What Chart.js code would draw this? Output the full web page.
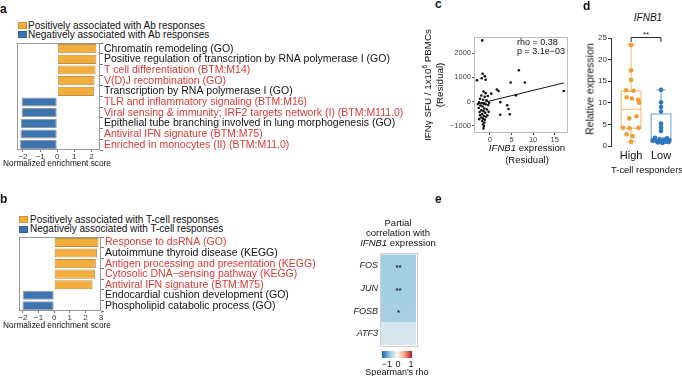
<!DOCTYPE html>
<html>
<head>
<meta charset="utf-8">
<script src="https://cdn.jsdelivr.net/npm/chart.js@4.4.1/dist/chart.umd.min.js"></script>
<style>
  body { margin: 0; background: #fff; }
  #fig { position: relative; width: 682px; height: 376px; overflow: hidden;
         font-family: "Liberation Sans", Arial, sans-serif; color: #111; }
  #fig canvas { position: absolute; }
  .t { position: absolute; white-space: nowrap; }
  .c { transform: translate(-50%, -50%); }
  .r { transform: translate(-50%, -50%) rotate(-90deg); }
  .pl { font-weight: bold; font-size: 12px; line-height: 12px; }
  .sw { position: absolute; width: 9px; height: 7px; box-sizing: border-box; }
  .lg { font-size: 10px; line-height: 10px; }
</style>
</head>
<body>
<div id="fig">
  <!-- panel a -->
  <div class="t pl" style="left:0;top:3px">a</div>
  <div class="sw" style="left:18px;top:22px;background:#f2ad3c;border:1px solid #c9933a"></div>
  <div class="t lg" style="left:28px;top:20.5px">Positively associated with Ab responses</div>
  <div class="sw" style="left:18px;top:31px;background:#3d74ad;border:1px solid #35618f"></div>
  <div class="t lg" style="left:28px;top:29.5px">Negatively associated with Ab responses</div>
  <canvas id="chartA" width="420" height="134" style="left:0;top:36px"></canvas>
  <div class="t c" style="left:57px;top:163px;font-size:8.3px;line-height:8px">Normalized enrichment score</div>

  <!-- panel b -->
  <div class="t pl" style="left:0;top:193px">b</div>
  <div class="sw" style="left:19px;top:216px;background:#f2ad3c;border:1px solid #c9933a"></div>
  <div class="t lg" style="left:30px;top:214.5px">Positively associated with T-cell responses</div>
  <div class="sw" style="left:19px;top:225.5px;background:#3d74ad;border:1px solid #35618f"></div>
  <div class="t lg" style="left:30px;top:224px">Negatively associated with T-cell responses</div>
  <canvas id="chartB" width="420" height="101" style="left:0;top:230px"></canvas>
  <div class="t c" style="left:57px;top:325px;font-size:8.3px;line-height:8px">Normalized enrichment score</div>

  <!-- panel c -->
  <div class="t pl" style="left:435px;top:-2px">c</div>
  <canvas id="chartC" width="172" height="115" style="left:400px;top:28px"></canvas>
  <div class="t r" style="left:428px;top:85px;font-size:9.8px;line-height:10px">IFNγ SFU / 1x10<span style="font-size:6.5px;vertical-align:4px;line-height:0">6</span> PBMCs</div>
  <div class="t r" style="left:440px;top:85px;font-size:9.8px;line-height:10px">(Residual)</div>
  <div class="t c" style="left:527px;top:148px;font-size:9.6px;line-height:10px"><i>IFNB1</i> expression</div>
  <div class="t c" style="left:527px;top:160px;font-size:9.6px;line-height:10px">(Residual)</div>
  <div class="t" style="left:517px;top:38px;font-size:9px;line-height:9px">rho = 0.38</div>
  <div class="t" style="left:517px;top:46.5px;font-size:9px;line-height:9px">p = 3.1e−03</div>

  <!-- panel d -->
  <div class="t pl" style="left:583px;top:0">d</div>
  <div class="t c" style="left:648px;top:18px;font-size:10px;line-height:10px"><i>IFNB1</i></div>
  <canvas id="chartD" width="122" height="140" style="left:560px;top:28px"></canvas>
  <div class="t r" style="left:590px;top:89px;font-size:10.5px;line-height:11px">Relative expression</div>
  <div class="t c" style="left:647px;top:170px;font-size:9.4px;line-height:10px">T-cell responders</div>

  <!-- panel e -->
  <div class="t pl" style="left:435px;top:193px">e</div>
  <div class="t c" style="left:398px;top:223px;font-size:9.5px;line-height:10px">Partial</div>
  <div class="t c" style="left:398px;top:233px;font-size:9.5px;line-height:10px">correlation with</div>
  <div class="t c" style="left:398px;top:243px;font-size:9.5px;line-height:10px"><i>IFNB1</i> expression</div>
  <canvas id="chartE" width="90" height="128" style="left:340px;top:246px"></canvas>
  <div class="t c" style="left:387px;top:364px;font-size:9px;line-height:9px">−1</div>
  <div class="t c" style="left:398px;top:364px;font-size:9px;line-height:9px">0</div>
  <div class="t c" style="left:411px;top:364px;font-size:9px;line-height:9px">1</div>
  <div class="t c" style="left:397px;top:372px;font-size:9px;line-height:9px">Spearman's rho</div>
</div>

<script>
// ---- data ----
const aTerms = [
  'Chromatin remodeling (GO)',
  'Positive regulation of transcription by RNA polymerase I (GO)',
  'T cell differentiation (BTM:M14)',
  'V(D)J recombination (GO)',
  'Transcription by RNA polymerase I (GO)',
  'TLR and inflammatory signaling (BTM:M16)',
  'Viral sensing & immunity; IRF2 targets network (I) (BTM:M111.0)',
  'Epithelial tube branching involved in lung morphogenesis (GO)',
  'Antiviral IFN signature (BTM:M75)',
  'Enriched in monocytes (II) (BTM:M11.0)'
];
const aNES = [2.29, 2.29, 2.24, 2.18, 2.16, -2.08, -2.08, -2.12, -2.15, -2.17];
const aRed = [false, false, true, true, false, true, true, false, true, true];
const aTicks = [-2, -1, 0, 1, 2];

const bTerms = [
  'Response to dsRNA (GO)',
  'Autoimmune thyroid disease (KEGG)',
  'Antigen processing and presentation (KEGG)',
  'Cytosolic DNA\u2212sensing pathway (KEGG)',
  'Antiviral IFN signature (BTM:M75)',
  'Endocardial cushion development (GO)',
  'Phospholipid catabolic process (GO)'
];
const bNES = [2.84, 2.74, 2.67, 2.61, 2.46, -1.99, -2.03];
const bRed = [true, false, true, true, true, false, false];
const bTicks = [-2, -1, 0, 1, 2, 3];

// panel c: IFNB1 expression residual vs IFNg SFU residual
const cX = [-1.8, 6.7, 4.8, 8.1, 17.1, -1.7, -1.2, -1.9, -1.0, -3.0,
            1.6, 2.0, 0.3, -1.5, -1.0, -2.0, -1.2, -0.5, 6.0, -2.3,
            -1.6, -0.8, 2.4, -2.5, -1.9, -1.4, -1.0, -0.4, -2.2, -1.7,
            4.0, 4.3, 4.6, 2.4, -2.6, -1.3, -0.7, -2.0, -1.5, -2.4,
            -1.1, -0.3, -1.8, -2.3, -1.4, -0.9, -2.0, -1.6, -1.2, -2.5,
            -1.8, -1.3, -1.6, -1.4, -1.5, -0.6, -2.8, -0.2];
const cY = [2520, 1290, 790, 790, 440, 1150, 1050, 960, 900, 880,
            500, 440, 330, 420, 350, 250, 200, 230, 260, 120,
            80, 60, -20, -30, -60, -90, -110, -140, -160, -200,
            -150, -300, -520, -540, -260, -280, -320, -350, -390, -430,
            -460, -420, -510, -560, -590, -620, -650, -700, -740, -720,
            -800, -860, -930, -1000, -1100, -560, -100, -50];
const cFitX = [-3.0, 17.1];
const cFitY = [-100, 770];
const cTicksX = [0, 5, 10, 15];
const cTicksY = [-1000, 0, 1000, 2000];

// panel d: IFNB1 relative expression by T-cell responder group
const dCategories = ['High', 'Low'];
const dHigh = [23.4, 17.5, 15.3, 12.9, 12.8, 11.3, 11.0, 10.7, 10.0, 6.9, 6.4, 4.2, 4.1, 4.2, 2.7, 2.3, 1.0];
const dHighJitter = [0, 0, 0, -0.17, 0.08, -0.15, 0.03, 0.24, 0.27, 0.18, -0.06, -0.27, -0.05, 0.25, -0.15, 0.05, 0];
const dLow = [13.0, 10.1, 9.0, 8.0, 5.2, 4.3, 3.5, 1.9, 1.8, 1.6, 1.5, 1.4, 1.3, 1.2, 1.1, 1.0, 0.9, 0.8, 0.7];
const dLowJitter = [0, 0, 0, 0, 0, 0, 0, -0.2, 0.2, -0.05, 0.1, 0.28, -0.28, 0, -0.15, 0.15, 0.25, -0.1, 0.05];
const dHighBox = [1.0, 4.1, 8.5, 12.7, 23.4];   // min, q1, median, q3, max
const dLowBox = [0.7, 0.85, 1.5, 7.4, 13.0];
const dTicks = [0, 5, 10, 15, 20, 25];

// panel e: partial correlation heatmap
const eGenes = ['FOS', 'JUN', 'FOSB', 'ATF3'];
const eRho = [-0.41, -0.41, -0.40, -0.17];
const eStars = ['**', '**', '*', ''];
const eScale = [[-1, '#2166ac'], [-0.5, '#92c5de'], [0, '#f7f7f7'], [0.5, '#f4a582'], [1, '#b2182b']];

// ---- style ----
const FONT = '"Liberation Sans", Arial, sans-serif';
const RED = '#dc3a36';
const ORANGE = '#f2ad3c', ORANGE_EDGE = '#bd8e45';
const BLUE = '#3d74ad', BLUE_EDGE = '#8e99a5';
Chart.defaults.font.family = FONT;
Chart.defaults.color = '#111';

const minus = v => (v < 0 ? '\u2212' + Math.abs(v) : String(v));
const setTicks = list => scale => { scale.ticks = list.map(v => ({ value: v })); };

const frame = {
  id: 'frame',
  afterDraw(chart, args, opts) {
    const a = chart.chartArea, ctx = chart.ctx, g = opts.gap || 0;
    ctx.save();
    ctx.strokeStyle = opts.color || '#999';
    ctx.lineWidth = 1;
    ctx.strokeRect(Math.round(a.left - g) + 0.5, Math.round(a.top - g) + 0.5,
                   Math.round(a.width + 2 * g) - 1, Math.round(a.height + 2 * g) - 1);
    ctx.restore();
  }
};

// ---- panels a, b ----
function nesChart(id, terms, nes, red, ticks, xmin, xmax, padLeft, padTop, right) {
  const cv = document.getElementById(id);
  new Chart(cv, {
    type: 'bar',
    data: {
      labels: terms,
      datasets: [{
        data: nes,
        backgroundColor: nes.map(v => (v > 0 ? ORANGE : BLUE)),
        borderColor: nes.map(v => (v > 0 ? ORANGE_EDGE : BLUE_EDGE)),
        borderWidth: 1,
        borderSkipped: false,
        categoryPercentage: 0.86,
        barPercentage: 1
      }]
    },
    options: {
      indexAxis: 'y',
      responsive: false,
      animation: false,
      layout: { padding: { left: padLeft, top: padTop, right: 0, bottom: 0 } },
      plugins: { legend: { display: false }, tooltip: { enabled: false }, frame: { color: '#9a9a9a' } },
      scales: {
        x: {
          min: xmin, max: xmax,
          afterBuildTicks: setTicks(ticks),
          afterFit: s => { s.height = 20; },
          grid: { drawOnChartArea: false, tickLength: 2, color: '#777' },
          border: { display: false },
          ticks: { font: { size: 8 }, color: '#333', padding: 0, callback: v => minus(v) }
        },
        y: {
          position: 'right',
          afterFit: s => { s.width = cv.width - right; },
          grid: { drawOnChartArea: false, tickLength: 3, color: '#777' },
          border: { display: false },
          ticks: { autoSkip: false, font: { size: 10.5 }, padding: 1,
                   color: c => (red[c.index] ? RED : '#111') }
        }
      }
    },
    plugins: [frame]
  });
}
nesChart('chartA', aTerms, aNES, aRed, aTicks, -2.35, 2.5, 17, 7, 100);
nesChart('chartB', bTerms, bNES, bRed, bTicks, -2.25, 3.0, 19, 7, 101);

// ---- panel c ----
new Chart(document.getElementById('chartC'), {
  type: 'scatter',
  data: {
    datasets: [
      { data: cX.map((x, i) => ({ x, y: cY[i] })), pointRadius: 1.3, backgroundColor: '#111', borderWidth: 0 },
      { type: 'line', data: cFitX.map((x, i) => ({ x, y: cFitY[i] })), borderColor: '#111',
        borderWidth: 1, pointRadius: 0, fill: false }
    ]
  },
  options: {
    responsive: false,
    animation: false,
    layout: { padding: { left: 0, top: 9, right: 4, bottom: 0 } },
    plugins: { legend: { display: false }, tooltip: { enabled: false }, frame: { color: '#bdbdbd' } },
    scales: {
      x: {
        type: 'linear', min: -3.7, max: 18.1,
        afterBuildTicks: setTicks(cTicksX),
        afterFit: s => { s.height = 10; },
        grid: { drawOnChartArea: false, tickLength: 2, color: '#555' },
        border: { display: false },
        ticks: { font: { size: 7.5 }, color: '#444', padding: 0, callback: v => minus(v) }
      },
      y: {
        min: -1290, max: 2660,
        afterBuildTicks: setTicks(cTicksY),
        afterFit: s => { s.width = 74; },
        grid: { drawOnChartArea: false, tickLength: 2, color: '#555' },
        border: { display: false },
        ticks: { font: { size: 7.5 }, color: '#444', padding: 1, callback: v => minus(v) }
      }
    }
  },
  plugins: [frame]
});

// ---- panel d ----
const BOX_HALF = 0.33, CAP_HALF = 0.15;
const D_POINT = ['#f39b30', '#2f78c0'];
const D_LINE = ['#f6b56d', '#62a0d8'];
const boxPlot = {
  id: 'boxPlot',
  beforeDatasetsDraw(chart) {
    const { ctx, scales: { x, y } } = chart;
    [dHighBox, dLowBox].forEach((b, i) => {
      const c = x.getPixelForValue(i + 1);
      const hw = x.getPixelForValue(i + 1 + BOX_HALF) - c;
      const cw = x.getPixelForValue(i + 1 + CAP_HALF) - c;
      const [mn, q1, md, q3, mx] = b.map(v => y.getPixelForValue(v));
      ctx.save();
      ctx.strokeStyle = D_LINE[i];
      ctx.lineWidth = 1;
      ctx.strokeRect(c - hw, q3, 2 * hw, q1 - q3);
      ctx.beginPath();
      ctx.moveTo(c - hw, md); ctx.lineTo(c + hw, md);
      ctx.moveTo(c, q3); ctx.lineTo(c, mx);
      ctx.moveTo(c, q1); ctx.lineTo(c, mn);
      ctx.moveTo(c - cw, mx); ctx.lineTo(c + cw, mx);
      ctx.moveTo(c - cw, mn); ctx.lineTo(c + cw, mn);
      ctx.stroke();
      ctx.restore();
    });
  },
  afterDraw(chart) {
    const { ctx, scales: { x, y } } = chart;
    const x1 = x.getPixelForValue(1), x2 = x.getPixelForValue(2);
    const top = y.getPixelForValue(25.1), leg = y.getPixelForValue(24.1);
    ctx.save();
    ctx.strokeStyle = '#222';
    ctx.lineWidth = 1;
    ctx.beginPath();
    ctx.moveTo(x1, leg); ctx.lineTo(x1, top); ctx.lineTo(x2, top); ctx.lineTo(x2, leg);
    ctx.stroke();
    ctx.fillStyle = '#222';
    ctx.font = '8px ' + FONT;
    ctx.textAlign = 'center';
    ctx.textBaseline = 'bottom';
    ctx.fillText('**', (x1 + x2) / 2, top + 1);
    ctx.restore();
  }
};
new Chart(document.getElementById('chartD'), {
  type: 'scatter',
  data: {
    datasets: [
      { data: dHigh.map((v, i) => ({ x: 1 + dHighJitter[i], y: v })), pointRadius: 2.3,
        backgroundColor: D_POINT[0], borderWidth: 0 },
      { data: dLow.map((v, i) => ({ x: 2 + dLowJitter[i], y: v })), pointRadius: 2.3,
        backgroundColor: D_POINT[1], borderWidth: 0 }
    ]
  },
  options: {
    responsive: false,
    animation: false,
    layout: { padding: { left: 0, top: 10, right: 6, bottom: 0 } },
    plugins: { legend: { display: false }, tooltip: { enabled: false } },
    scales: {
      x: {
        type: 'linear', min: 0.33, max: 2.5,
        afterBuildTicks: setTicks([1, 2]),
        afterFit: s => { s.height = 22; },
        grid: { display: false, drawTicks: false },
        border: { display: false },
        ticks: { font: { size: 11 }, color: '#111', padding: 3, callback: v => dCategories[v - 1] }
      },
      y: {
        min: 0, max: 25,
        afterBuildTicks: setTicks(dTicks),
        afterFit: s => { s.width = 51; },
        grid: { drawOnChartArea: false, tickLength: 3, color: '#333' },
        border: { display: true, color: '#333', width: 1 },
        ticks: { font: { size: 8 }, color: '#333', padding: 1 }
      }
    }
  },
  plugins: [boxPlot]
});

// ---- panel e ----
function hex(c) { return [1, 3, 5].map(k => parseInt(c.slice(k, k + 2), 16)); }
function rhoColor(v) {
  for (let k = 1; k < eScale.length; k++) {
    const [v0, c0] = eScale[k - 1], [v1, c1] = eScale[k];
    if (v <= v1) {
      const t = (v - v0) / (v1 - v0), a = hex(c0), b = hex(c1);
      return 'rgb(' + a.map((p, j) => Math.round(p + (b[j] - p) * t)).join(',') + ')';
    }
  }
  return eScale[eScale.length - 1][1];
}
const heatExtras = {
  id: 'heatExtras',
  afterDatasetsDraw(chart) {
    const ctx = chart.ctx, meta = chart.getDatasetMeta(0);
    ctx.save();
    ctx.fillStyle = '#222';
    ctx.font = 'bold 8px ' + FONT;
    ctx.textAlign = 'center';
    ctx.textBaseline = 'middle';
    const cx = (chart.chartArea.left + chart.chartArea.right) / 2;
    meta.data.forEach((bar, i) => ctx.fillText(eStars[i], cx, bar.y + 2));
    // colour key
    const a = chart.chartArea, kx = a.left + 1, ky = a.bottom + 6, kw = 30, kh = 7;
    const grad = ctx.createLinearGradient(kx, 0, kx + kw, 0);
    eScale.forEach(([v, c]) => grad.addColorStop((v + 1) / 2, c));
    ctx.fillStyle = grad;
    ctx.fillRect(kx, ky, kw, kh);
    ctx.restore();
  }
};
new Chart(document.getElementById('chartE'), {
  type: 'bar',
  data: {
    labels: eGenes,
    datasets: [{
      data: eGenes.map(() => [0, 1]),
      backgroundColor: eRho.map(rhoColor),
      borderWidth: 0,
      categoryPercentage: 1,
      barPercentage: 1
    }]
  },
  options: {
    indexAxis: 'y',
    responsive: false,
    animation: false,
    layout: { padding: { left: 0, top: 4, right: 14, bottom: 29 } },
    plugins: { legend: { display: false }, tooltip: { enabled: false }, frame: { color: '#cfcfcf', gap: 1.5 } },
    scales: {
      x: { display: false, min: 0, max: 1 },
      y: {
        afterFit: s => { s.width = 41; },
        grid: { display: false, drawTicks: false },
        border: { display: false },
        ticks: { font: { size: 9, style: 'italic' }, color: '#222', padding: 3 }
      }
    }
  },
  plugins: [frame, heatExtras]
});
</script>
</body>
</html>
